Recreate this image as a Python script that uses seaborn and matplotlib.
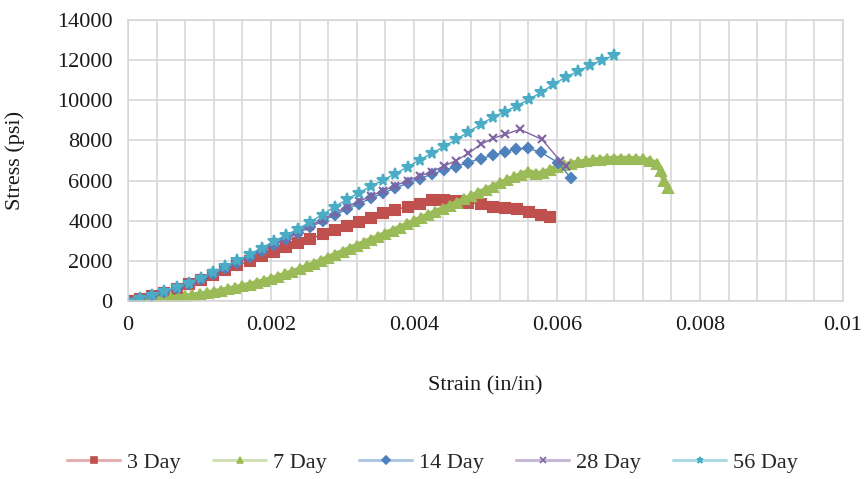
import pandas as pd
import seaborn as sns
import matplotlib
matplotlib.use("Agg")
import matplotlib.pyplot as plt
from matplotlib.ticker import MultipleLocator
from matplotlib.lines import Line2D
from matplotlib.colors import to_rgba

# ---- data ----
strain_3 = [0, .00017, .00034, .00051, .00068, .00085, .00102, .00119, .00136, .00153,
            .0017, .00187, .00204, .00221, .00238, .00255, .00272, .00289, .00306, .00323,
            .0034, .00357, .00374, .00391, .00408, .00425, .00442, .00459, .00476, .00493,
            .0051, .00527, .00544, .00561, .00578, .0059]
stress_3 = [0, 110, 250, 420, 610, 830, 1070, 1300, 1530, 1770,
            2000, 2230, 2450, 2680, 2900, 3100, 3320, 3520, 3720, 3920,
            4150, 4370, 4550, 4700, 4850, 5050, 5050, 4980, 4900, 4830,
            4700, 4650, 4580, 4450, 4300, 4200]

strain_7 = [0, .0001, .0002, .0003, .0004, .0005, .0006, .0007, .0008, .0009,
            .001, .0011, .0012, .0013, .0014, .0015, .0016, .0017, .0018, .0019,
            .002, .0021, .0022, .0023, .0024, .0025, .0026, .0027, .0028, .0029,
            .003, .0031, .0032, .0033, .0034, .0035, .0036, .0037, .0038, .0039,
            .004, .0041, .0042, .0043, .0044, .0045, .0046, .0047, .0048, .0049,
            .005, .0051, .0052, .0053, .0054, .0055, .0056, .0057, .0058, .0059,
            .006, .0061, .0062, .0063, .0064, .0065, .0066, .0067, .0068, .0069,
            .007, .0071, .0072, .0073, .0074, .00745, .0075, .00755]
stress_7 = [0, 15, 35, 60, 90, 120, 150, 190, 230, 280,
            330, 390, 450, 520, 590, 660, 740, 820, 910, 1000,
            1100, 1210, 1330, 1450, 1580, 1720, 1860, 2010, 2160, 2310,
            2460, 2610, 2760, 2910, 3060, 3210, 3360, 3510, 3660, 3820,
            3980, 4130, 4290, 4440, 4600, 4750, 4900, 5060, 5220, 5380,
            5540, 5700, 5860, 6010, 6160, 6300, 6450, 6330, 6380, 6520,
            6680, 6770, 6850, 6910, 6960, 7010, 7050, 7080, 7100, 7100,
            7100, 7090, 7060, 6980, 6830, 6500, 6000, 5650]

strain_14 = [0, .00017, .00034, .00051, .00068, .00085, .00102, .00119, .00136, .00153,
             .0017, .00187, .00204, .00221, .00238, .00255, .00272, .00289, .00306, .00323,
             .0034, .00357, .00374, .00391, .00408, .00425, .00442, .00459, .00476, .00493,
             .0051, .00527, .00543, .0056, .00577, .00601, .00619]
stress_14 = [0, 120, 260, 440, 640, 860, 1100, 1350, 1620, 1900,
             2190, 2480, 2780, 3080, 3380, 3680, 3980, 4280, 4570, 4850,
             5120, 5380, 5630, 5870, 6100, 6320, 6520, 6700, 6900, 7100,
             7250, 7420, 7580, 7600, 7420, 6900, 6150]

strain_28 = [0, .00017, .00034, .00051, .00068, .00085, .00102, .00119, .00136, .00153,
             .0017, .00187, .00204, .00221, .00238, .00255, .00272, .00289, .00306, .00323,
             .0034, .00357, .00374, .00391, .00408, .00425, .00442, .00459, .00476, .00493,
             .0051, .00527, .00548, .00579, .00604, .00612]
stress_28 = [0, 120, 270, 450, 650, 880, 1120, 1380, 1650, 1940,
             2230, 2530, 2840, 3140, 3440, 3750, 4060, 4370, 4680, 4960,
             5230, 5500, 5750, 6000, 6220, 6450, 6720, 7000, 7350, 7800,
             8100, 8300, 8550, 8050, 7000, 6750]

strain_56 = [0, .00017, .00034, .00051, .00068, .00085, .00102, .00119, .00136, .00153,
             .0017, .00187, .00204, .00221, .00238, .00255, .00272, .00289, .00306, .00323,
             .0034, .00357, .00374, .00391, .00408, .00425, .00442, .00459, .00476, .00493,
             .0051, .00527, .00544, .00561, .00578, .00595, .00612, .00629, .00646, .00663,
             .0068]
stress_56 = [0, 130, 290, 480, 690, 920, 1170, 1440, 1720, 2020,
             2320, 2640, 2980, 3280, 3600, 3950, 4300, 4700, 5060, 5400,
             5720, 6030, 6350, 6680, 7030, 7360, 7700, 8050, 8420, 8800,
             9150, 9430, 9730, 10050, 10400, 10800, 11150, 11440, 11740, 12000,
             12250]

series_names = ["3 Day", "7 Day", "14 Day", "28 Day", "56 Day"]
x_ticks = [0, 0.002, 0.004, 0.006, 0.008, 0.01]
x_tick_labels = ["0", "0.002", "0.004", "0.006", "0.008", "0.01"]
y_ticks = [0, 2000, 4000, 6000, 8000, 10000, 12000, 14000]

frames = []
for name, sx, sy in zip(series_names,
                        [strain_3, strain_7, strain_14, strain_28, strain_56],
                        [stress_3, stress_7, stress_14, stress_28, stress_56]):
    frames.append(pd.DataFrame({"strain": sx, "stress": sy, "series": name}))
df = pd.concat(frames, ignore_index=True)

colors = {"3 Day": "#C0504D", "7 Day": "#9BBB59", "14 Day": "#4F81BD",
          "28 Day": "#8064A2", "56 Day": "#4BACC6"}
markers = {"3 Day": "s", "7 Day": "^", "14 Day": "D", "28 Day": "x", "56 Day": "*"}
msize = {"3 Day": 6.5, "7 Day": 7.5, "14 Day": 5, "28 Day": 6, "56 Day": 8.5}
lwidth = {"3 Day": 1, "7 Day": 4, "14 Day": 1, "28 Day": 1, "56 Day": 1}

sns.set_style("white")
plt.rcParams["font.family"] = ["Liberation Serif", "DejaVu Serif"]

fig = plt.figure(figsize=(8.65, 4.79), dpi=100)
ax = fig.add_axes([0.148, 0.3716, 0.8266, 0.5866])

for name in series_names:
    d = df[df["series"] == name]
    sns.lineplot(data=d, x="strain", y="stress", ax=ax, color=colors[name],
                 marker=markers[name], markersize=msize[name], linewidth=lwidth[name],
                 markeredgecolor=colors[name], markeredgewidth=1.5,
                 sort=False, estimator=None, legend=False)

ax.set_xlim(0, 0.01)
ax.set_ylim(0, 14000)
ax.set_xticks(x_ticks)
ax.set_xticklabels(x_tick_labels)
ax.set_yticks(y_ticks)
ax.xaxis.set_minor_locator(MultipleLocator(0.0004))
ax.grid(True, which="both", axis="x", color="#d4d4d4", linewidth=1.1)
ax.grid(True, which="major", axis="y", color="#d4d4d4", linewidth=1.1)
ax.set_axisbelow(True)
for s in ax.spines.values():
    s.set_color("#d4d4d4")
    s.set_linewidth(1.1)
ax.tick_params(axis="both", which="major", direction="out", length=6, width=1.1,
               color="#c8c8c8", labelsize=16, pad=5, labelcolor="#1a1a1a")
ax.tick_params(axis="x", which="minor", length=0)

ax.set_xlabel("Strain (in/in)", fontsize=16, color="#1a1a1a")
ax.set_ylabel("Stress (psi)", fontsize=16, color="#1a1a1a")
ax.xaxis.set_label_coords(0.5, -0.267)
ax.yaxis.set_label_coords(-0.144, 0.5)

handles = [Line2D([], [], color=to_rgba(colors[n], 0.45), linewidth=2.2,
                  marker=markers[n], markersize=4.5, markerfacecolor=colors[n],
                  markeredgecolor=colors[n], markeredgewidth=1.2)
           for n in series_names]
fig.legend(handles, series_names, loc="center", bbox_to_anchor=(0.5, 0.035), ncol=5,
           frameon=False, fontsize=16, handlelength=2.4, handletextpad=0.3,
           columnspacing=1.45)

fig.savefig("out.png", dpi=100)
